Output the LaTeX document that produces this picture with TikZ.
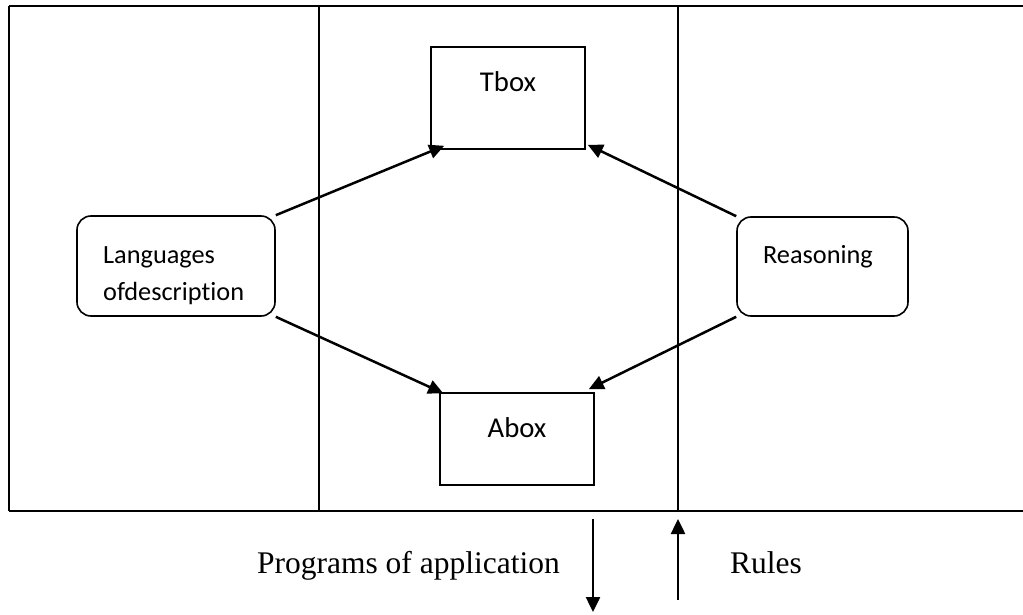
\documentclass[tikz,border=0pt]{standalone}
\usepackage{fontspec}
\setmainfont{Liberation Serif}
\newfontfamily\calibri[Ligatures=CommonOff]{Carlito}
\usetikzlibrary{arrows.meta,calc}
\begin{document}
\begin{tikzpicture}[x=1pt,y=-1pt,
  frame/.style={line width=1.6pt},
  box/.style={draw, line width=1.6pt, inner sep=0pt},
  rbox/.style={box, rounded corners=14pt},
  smalltext/.style={font=\calibri\fontsize{26.3}{36}\selectfont, inner sep=0pt},
  bigtext/.style={font=\calibri\fontsize{28.7}{34}\selectfont, inner sep=0pt},
  link/.style={line width=2.5pt, -{Triangle[length=15pt,width=14pt]}},
  caption/.style={font=\fontsize{31.5}{36}\selectfont, inner sep=0pt}]
\useasboundingbox (0,0) rectangle (1023,615);

% outer frame, open on the right
\coordinate (tl) at (9,6);
\coordinate (tr) at (1023,6);
\coordinate (bl) at (9,511);
\coordinate (br) at (1023,511);
\draw[line width=2pt] (tr) -- (tl);
\draw[frame] (tl) -- (bl);
\draw[line width=2.8pt] (bl) -- (br);

% column dividers
\coordinate (d1t) at (319,6);
\coordinate (d1b) at (319,511);
\coordinate (d2t) at (678,6);
\coordinate (d2b) at (678,511);
\draw[frame] (d1t) -- (d1b);
\draw[frame] (d2t) -- (d2b);

% boxes
\node[box, minimum width=154pt, minimum height=102pt] (tbox) at (508,98) {};
\node[box, minimum width=154pt, minimum height=92pt] (abox) at (517,439) {};
\node[rbox, minimum width=198pt, minimum height=100pt] (lang) at (176,266) {};
\node[rbox, minimum width=171pt, minimum height=99pt] (reas) at (822.5,266.5) {};

% box labels
\node[bigtext, anchor=base] (tboxtext) at (508,92) {Tbox};
\node[bigtext, anchor=base] (aboxtext) at (517,437) {Abox};
\node[smalltext, anchor=base west] (langtext1) at (103,263) {Languages};
\node[smalltext, anchor=base west] (langtext2) at (103,300) {ofdescription};
\node[smalltext, anchor=base] (reastext) at (818,263) {Reasoning};

% links between boxes
\draw[link] (lang.north east) -- ($(tbox.south west)+(14pt,4pt)$);
\draw[link] (reas.north west) -- ($(tbox.south east)+(2pt,5pt)$);
\draw[link] (lang.south east) -- ($(abox.north west)+(4pt,-1pt)$);
\draw[link] (reas.south west) -- ($(abox.north east)+(-6pt,3pt)$);

% flows below the frame
\coordinate (outtop) at (593,519);
\coordinate (outbot) at (593,612);
\coordinate (inbot) at (678,600);
\coordinate (intop) at (678,519);
\draw[link] (outtop) -- (outbot);
\draw[link] (inbot) -- (intop);

\node[caption, anchor=base east] (progs) at (560,573) {Programs of application};
\node[caption, anchor=base west] (rules) at (730,573) {Rules};
\end{tikzpicture}
\end{document}
